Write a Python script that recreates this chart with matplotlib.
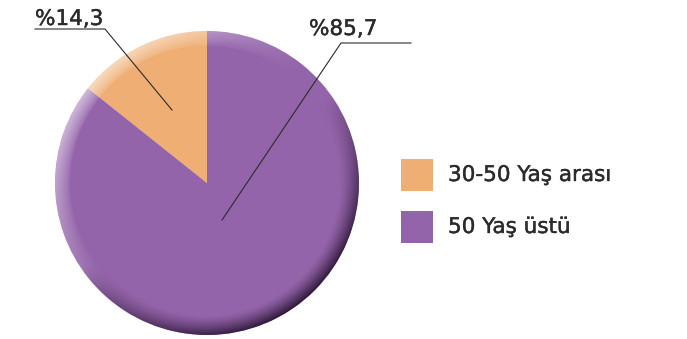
import numpy as np
import matplotlib
matplotlib.use("Agg")
from matplotlib import pyplot as plt
from matplotlib.patches import Circle, Rectangle
import matplotlib.patheffects as pe

plt.rcParams['font.family'] = ['DejaVu Sans']

# data
groups = ["30-50 Yaş arası", "50 Yaş üstü"]
shares = [14.3, 85.7]
share_labels = ["%14,3", "%85,7"]
colors = ["#EFAE73", "#9464AA"]

W, H = 687, 339
fig = plt.figure(figsize=(W / 100, H / 100), dpi=100)
ax = fig.add_axes([0, 0, 1, 1])

cx, cy, R = 207, 339 - 183, 152
wedges, _ = ax.pie(shares, colors=colors, startangle=90, counterclock=True,
                   center=(cx, cy), radius=R, frame=True,
                   wedgeprops=dict(linewidth=0))
ax.set_xlim(0, W)
ax.set_ylim(0, H)
ax.set_aspect("equal")
ax.axis("off")

# rim shading: light on the upper left, dark on the lower right
n = 400
xs = np.linspace(-1, 1, n)
X, Y = np.meshgrid(xs, xs)
r = np.sqrt(X ** 2 + Y ** 2)
th = np.arctan2(Y, X)
rim = np.clip((r - 0.87) / 0.13, 0, 1)
dark_dir = np.clip(np.cos(th - np.radians(-55)), 0, 1) ** 0.8
light_dir = np.clip(np.cos(th - np.radians(140)), 0, 1) ** 1.2
dark_a = (rim ** 1.4) * dark_dir * 0.92
light_a = np.clip((r - 0.90) / 0.10, 0, 1) ** 0.7 * light_dir * 0.55
rgba = np.zeros((n, n, 4))
shade_rgb = np.array([0.15, 0.07, 0.19])
tot = dark_a + light_a + 1e-9
rgba[..., :3] = (dark_a[..., None] * shade_rgb + light_a[..., None] * 1.0) / tot[..., None]
rgba[..., 3] = np.clip(dark_a + light_a, 0, 1)
im = ax.imshow(rgba, extent=(cx - R, cx + R, cy - R, cy + R), origin="lower",
               interpolation="bilinear", zorder=3)
im.set_clip_path(Circle((cx, cy), R, transform=ax.transData))

# leader lines for the percentage labels
line_kw = dict(color="#2b2b2b", lw=0.8, zorder=4)
ax.plot([35, 105, 172], [H - 29, H - 29, H - 110], **line_kw)
ax.plot([411, 341, 222], [H - 43, H - 43, H - 220], **line_kw)
heavier = [pe.withStroke(linewidth=0.3, foreground="#2b2b2b")]
txt_kw = dict(fontsize=15.5, color="#2b2b2b", va="baseline", zorder=5,
              path_effects=heavier)
ax.text(35, H - 25, share_labels[0], ha="left", **txt_kw)
ax.text(309, H - 35, share_labels[1], ha="left", **txt_kw)

# legend
for i, (g, c) in enumerate(zip(groups, colors)):
    top = 159 + i * 52
    ax.add_patch(Rectangle((401, H - top - 32), 32, 32, facecolor=c, edgecolor="none"))
    ax.text(448, H - top - 16, g, fontsize=15.5, color="#2b2b2b", va="center",
            ha="left", path_effects=heavier)

fig.savefig("out.png", dpi=100)
